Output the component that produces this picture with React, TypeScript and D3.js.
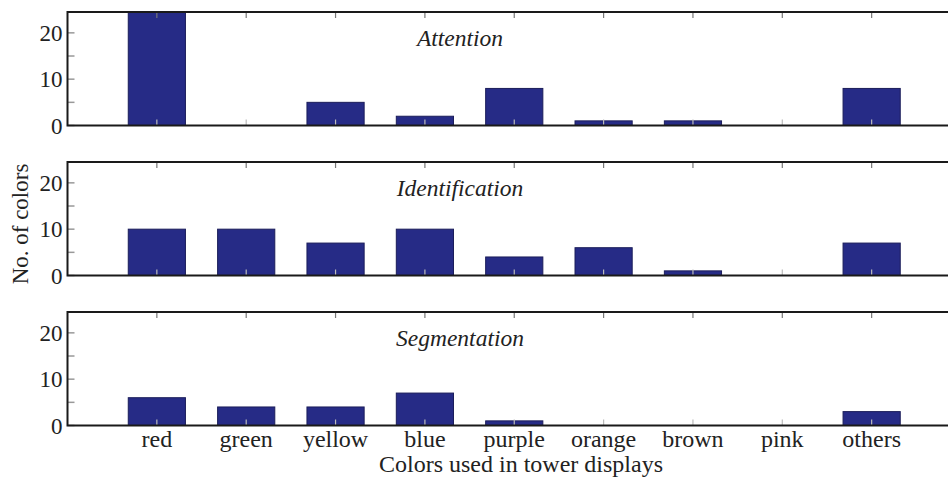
import React from "react";
import * as d3 from "d3";

const categories = ["red", "green", "yellow", "blue", "purple", "orange", "brown", "pink", "others"];
const attention = [25, 0, 5, 2, 8, 1, 1, 0, 8];
const identification = [10, 10, 7, 10, 4, 6, 1, 0, 7];
const segmentation = [6, 4, 4, 7, 1, 0, 0, 0, 3];
const panelTitles = ["Attention", "Identification", "Segmentation"];
const yTicks = [0, 5, 10, 15, 20];
const yTickLabels = [0, 10, 20];
const xLabel = "Colors used in tower displays";
const yLabel = "No. of colors";

const W = 948;
const H = 479;
const left = 67.5;
const right = 961;
const panelTops = [12, 162, 312];
const panelH = 113.5;
const barColor = "#262b86";
const font = "'Liberation Serif', 'Times New Roman', Times, serif";

export default function App() {
  const series = [attention, identification, segmentation];
  const x = d3.scaleLinear().domain([0, 10]).range([left, right]);
  const barW = (x(1) - x(0)) * 0.64;
  return (
    <svg width={W} height={H} style={{ position: "absolute", left: 0, top: 0, background: "#fff" }}>
      {series.map((vals, p) => {
        const top = panelTops[p];
        const y = d3.scaleLinear().domain([0, 24.5]).range([top + panelH, top]).clamp(true);
        return (
          <g key={p}>
            {vals.map((v, i) =>
              v > 0 ? (
                <rect
                  key={i}
                  x={x(i + 1) - barW / 2}
                  y={y(v)}
                  width={barW}
                  height={y(0) - y(v)}
                  fill={barColor}
                  stroke="#1b1d5a"
                  strokeWidth={1}
                />
              ) : null
            )}
            {yTicks.map((t) => (
              <line key={t} x1={left} x2={left + 7} y1={y(t)} y2={y(t)} stroke="#999" strokeWidth={1.5} />
            ))}
            {categories.map((c, i) => (
              <g key={c}>
                <line x1={x(i + 1)} x2={x(i + 1)} y1={top} y2={top + 6} stroke="#777" strokeWidth={1.2} />
                <line x1={x(i + 1)} x2={x(i + 1)} y1={top + panelH} y2={top + panelH - 6} stroke="#bbb" strokeWidth={1.2} />
              </g>
            ))}
            {yTickLabels.map((t) => (
              <text key={t} x={left - 5} y={y(t) + 8} textAnchor="end" fontFamily={font} fontSize={23} fill="#222">
                {t}
              </text>
            ))}
            <path
              d={`M${right},${top}H${left}V${top + panelH}H${right}`}
              fill="none"
              stroke="#1a1a1a"
              strokeWidth={2}
            />
            <text x={460} y={top + 34} textAnchor="middle" fontFamily={font} fontStyle="italic" fontSize={23.5} fill="#222">
              {panelTitles[p]}
            </text>
          </g>
        );
      })}
      {categories.map((c, i) => (
        <text key={c} x={x(i + 1)} y={447} textAnchor="middle" fontFamily={font} fontSize={24} fill="#222">
          {c}
        </text>
      ))}
      <text x={521} y={472} textAnchor="middle" fontFamily={font} fontSize={24} fill="#222">
        {xLabel}
      </text>
      <text
        transform={`translate(28,224) rotate(-90)`}
        textAnchor="middle"
        fontFamily={font}
        fontSize={23}
        fill="#222"
      >
        {yLabel}
      </text>
    </svg>
  );
}
